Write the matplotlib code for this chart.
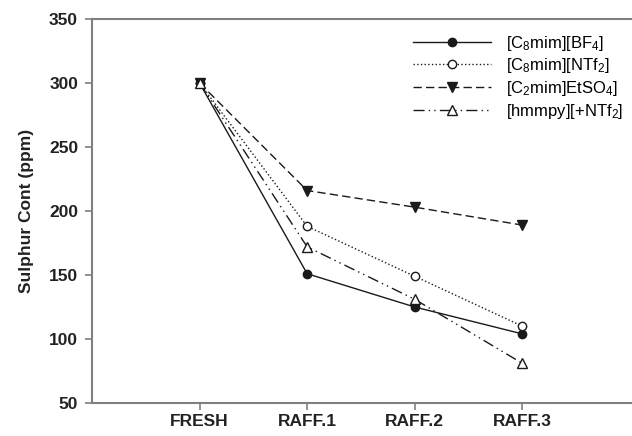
import matplotlib.pyplot as plt

plt.rcParams['font.family'] = ['Liberation Sans', 'DejaVu Sans']
plt.rcParams['mathtext.default'] = 'regular'

# Data
stages = ['FRESH', 'RAFF.1', 'RAFF.2', 'RAFF.3']
bf4 = [300, 151, 125, 104]
ntf2 = [300, 188, 149, 110]
etso4 = [300, 216, 203, 189]
hmmpy = [300, 172, 131, 81]

labels = [r'[C$_8$mim][BF$_4$]', r'[C$_8$mim][NTf$_2$]',
          r'[C$_2$mim]EtSO$_4$]', r'[hmmpy][+NTf$_2$]']

fig = plt.figure(figsize=(6.32, 4.36), dpi=100)
ax = fig.add_axes([92 / 632, 33 / 436, 1 - 92 / 632, (403 - 19) / 436])

x = range(len(stages))
lc = '#1a1a1a'
ax.plot(x, bf4, '-', color=lc, lw=1, marker='o', ms=6, mfc=lc, mec=lc, label=labels[0])
ax.plot(x, ntf2, ':', color=lc, lw=1, marker='o', ms=6, mfc='white', mec=lc, label=labels[1])
ax.plot(x, etso4, color=lc, lw=1, ls=(0, (6, 3)), marker='v', ms=7, mfc=lc, mec=lc, label=labels[2])
ax.plot(x, hmmpy, color=lc, lw=1, ls=(0, (8, 3, 1, 3, 1, 3)), marker='^', ms=6.5, mfc='white', mec=lc,
        label=labels[3])

ax.set_xlim(-1, 4.02)
ax.set_ylim(50, 350)
ax.set_xticks(list(x))
ax.set_xticklabels(stages, fontweight='bold', fontsize=12.5, color='#222222')
ax.set_yticks(range(50, 351, 50))
for t in ax.get_yticklabels():
    t.set_fontweight('bold')
    t.set_fontsize(12.5)
    t.set_color('#222222')
ax.set_ylabel('Sulphur Cont (ppm)', fontweight='bold', fontsize=12.5, color='#222222', labelpad=11)

for s in ['left', 'bottom', 'top']:
    ax.spines[s].set_color('#808080')
    ax.spines[s].set_linewidth(1.5)
ax.spines['right'].set_visible(False)
ax.tick_params(direction='out', length=5, width=1.2, color='#808080', pad=5)
ax.tick_params(axis='x', pad=3)

ax.legend(loc='upper left', bbox_to_anchor=(0.594, 0.962), frameon=False, fontsize=12,
          handlelength=4.7, labelspacing=0.22, handletextpad=0.9, borderpad=0, borderaxespad=0)

fig.savefig('out.png', dpi=100)
